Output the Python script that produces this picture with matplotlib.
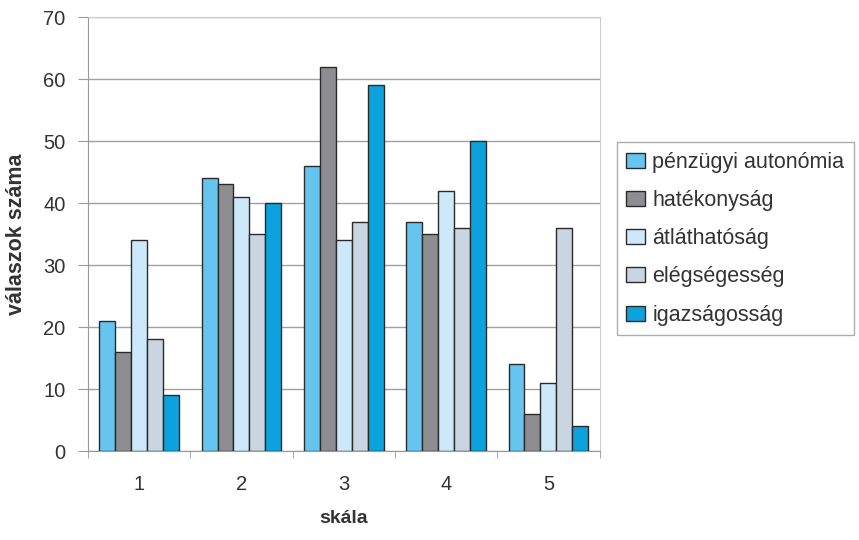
import numpy as np
import matplotlib.pyplot as plt

plt.rcParams['font.family'] = ['Liberation Sans', 'DejaVu Sans']

# skála kategóriák
categories = ["1", "2", "3", "4", "5"]
series_names = ["pénzügyi autonómia", "hatékonyság", "átláthatóság",
                "elégségesség", "igazságosság"]

penzugyi = [21, 44, 46, 37, 14]
hatekonysag = [16, 43, 62, 35, 6]
atlathatosag = [34, 41, 34, 42, 11]
elegsegesseg = [18, 35, 37, 36, 36]
igazsagossag = [9, 40, 59, 50, 4]

y_ticks = [0, 10, 20, 30, 40, 50, 60, 70]

values = [penzugyi, hatekonysag, atlathatosag, elegsegesseg, igazsagossag]
colors = ["#66C5EF", "#8E8E92", "#CDE9F9", "#C9D5E1", "#0BA2DE"]

fig = plt.figure(figsize=(8.59, 5.4), dpi=100)
ax = fig.add_axes([0.1024, 0.1648, 0.5956, 0.8037])

n = len(series_names)
width = 0.156
x = np.arange(len(categories))
for i, (name, vals) in enumerate(zip(series_names, values)):
    offs = x + (i - (n - 1) / 2) * width
    ax.bar(offs, vals, width, label=name, color=colors[i],
           edgecolor="#2a2a2a", linewidth=1.0, zorder=3)

ax.set_xlim(-0.5, len(categories) - 0.5)
ax.set_ylim(0, 70)
ax.set_yticks(y_ticks)
ax.set_xticks(x)
ax.set_xticklabels(categories)
ax.set_xticks(np.arange(-0.5, len(categories) + 0.5, 1), minor=True)
ax.tick_params(axis="x", which="major", length=0, pad=17, labelsize=14.5,
               labelcolor="#333333")
ax.tick_params(axis="x", which="minor", length=5, color="#999999")
ax.tick_params(axis="y", length=7, color="#999999", labelsize=14.5, pad=9,
               labelcolor="#333333")

ax.yaxis.grid(True, color="#a0a0a0", linewidth=1.0, zorder=0)
for s in ["top", "right"]:
    ax.spines[s].set_color("#cccccc")
for s in ["left", "bottom"]:
    ax.spines[s].set_color("#999999")

ax.set_xlabel("skála", fontsize=14, fontweight="bold", labelpad=12,
              color="#333333")
ax.set_ylabel("válaszok száma", fontsize=15.5, fontweight="bold", labelpad=12,
              color="#333333")

leg = fig.legend(loc="upper left", bbox_to_anchor=(0.718, 0.737),
                 frameon=True, fancybox=False, fontsize=15.5,
                 handlelength=0.85, handleheight=0.7, handletextpad=0.35,
                 labelspacing=0.8, borderpad=0.45, borderaxespad=0)
for t in leg.get_texts():
    t.set_color("#333333")
leg.get_frame().set_edgecolor("#999999")
leg.get_frame().set_linewidth(1.0)

fig.savefig("out.png", dpi=100)
